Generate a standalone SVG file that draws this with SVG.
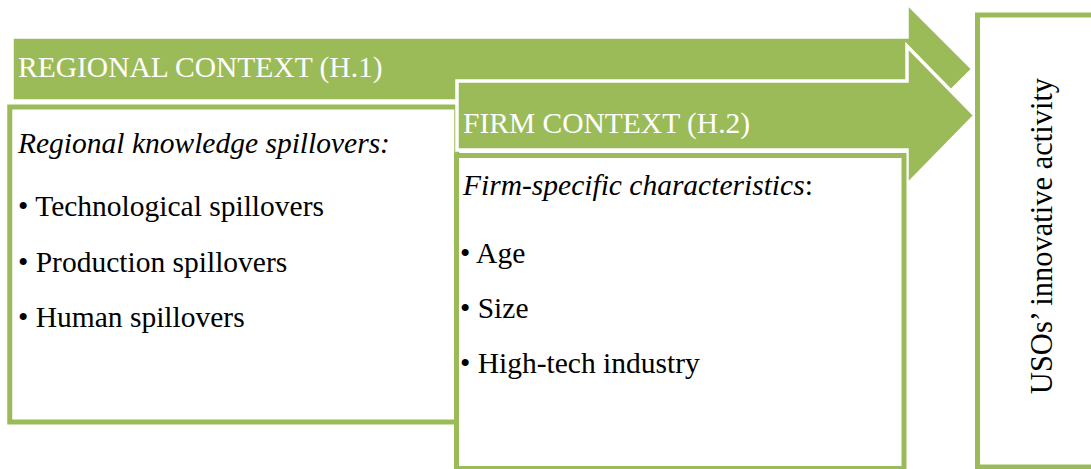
<svg xmlns="http://www.w3.org/2000/svg" width="1091" height="469" viewBox="0 0 1091 469">
<style>
.arrow{fill:#9BBB59;stroke:#FFFFFF;stroke-width:3.5;stroke-linejoin:miter}
.box{fill:#FFFFFF;stroke:#9BBB59;stroke-width:5}
.hdr{font-family:"Liberation Serif","Times New Roman",serif;font-size:29.5px;fill:#FFFFFF}
.txt{font-family:"Liberation Serif","Times New Roman",serif;font-size:29.5px;fill:#000000}
.it{font-style:italic}
</style>
<rect x="0" y="0" width="1091" height="469" fill="#FFFFFF"/>
<g id="regional-context-arrow">
<path class="arrow" d="M12,37 H907 V3 L973,69 L907,135 V101 H12 Z"/>
<text class="hdr" x="18" y="77">REGIONAL CONTEXT (H.1)</text>
</g>
<g id="regional-box">
<rect class="box" x="9.75" y="107" width="447" height="315"/>
<text class="txt it" x="18" y="153">Regional knowledge spillovers:</text>
<text class="txt" x="18" y="216">• Technological spillovers</text>
<text class="txt" x="18" y="272">• Production spillovers</text>
<text class="txt" x="18" y="327">• Human spillovers</text>
</g>
<g id="firm-context-arrow">
<path class="arrow" d="M457,81 H907 V46 L975,115.5 L907,185 V150 H457 Z"/>
<text class="hdr" x="463" y="133">FIRM CONTEXT (H.2)</text>
</g>
<g id="firm-box">
<rect class="box" x="456.5" y="155.5" width="447.5" height="313"/>
<text class="txt" x="463" y="195"><tspan class="it">Firm-specific characteristics</tspan>:</text>
<text class="txt" x="460" y="263">• Age</text>
<text class="txt" x="460" y="318">• Size</text>
<text class="txt" x="460" y="373">• High-tech industry</text>
</g>
<g id="outcome-box">
<rect class="box" x="977.5" y="15" width="130" height="452"/>
<text class="txt" text-anchor="middle" transform="translate(1052,236) rotate(-90)" style="font-size:30.5px">USOs’ innovative activity</text>
</g>
<g id="connectors"></g>
</svg>
